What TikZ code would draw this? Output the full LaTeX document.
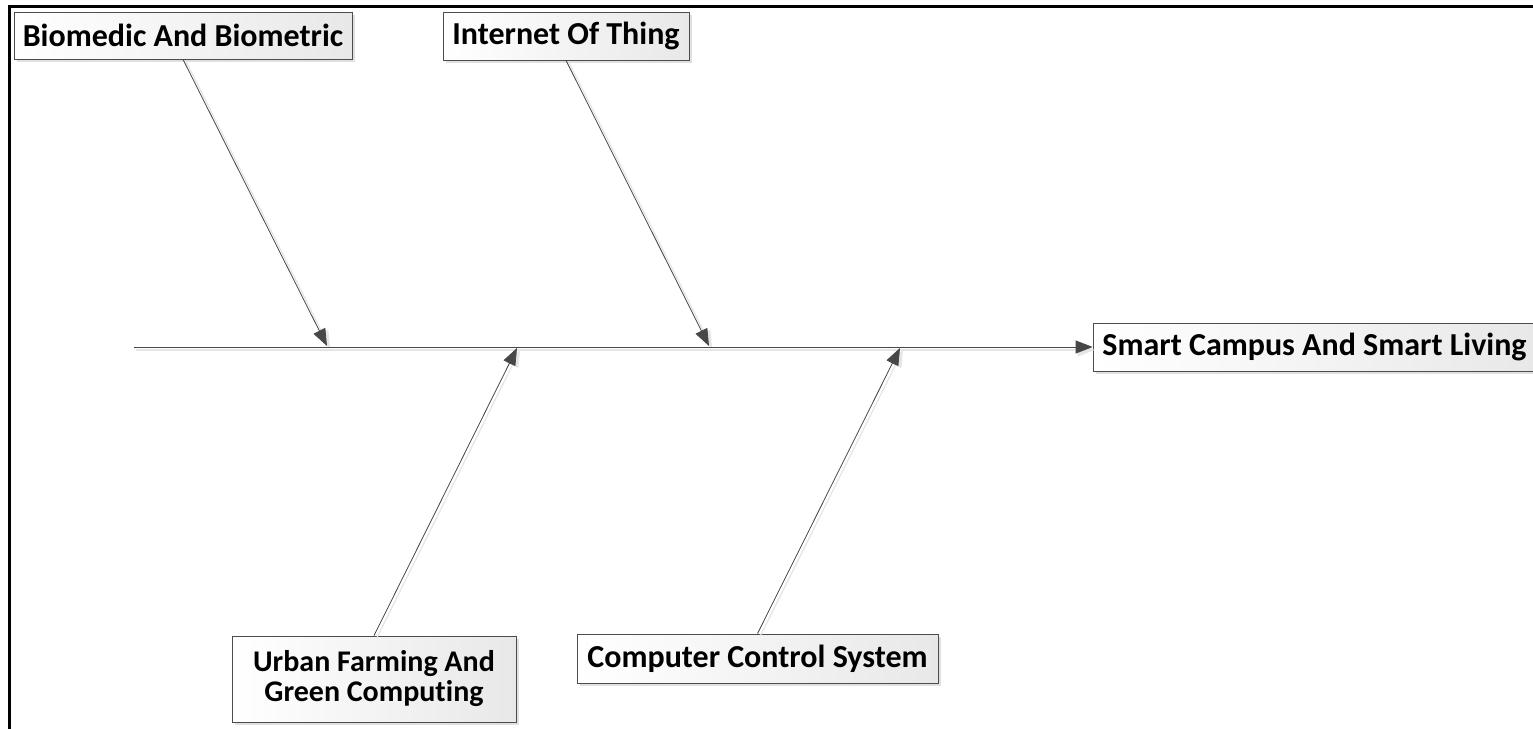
\documentclass[tikz,border=0pt]{standalone}
\usepackage{fontspec}
\setmainfont{Carlito}[Ligatures={NoCommon}]
\usetikzlibrary{arrows.meta,shadows}
\begin{document}
\begin{tikzpicture}[x=1pt,y=-1pt,
  box/.style={draw=black!70, line width=0.8pt, left color=white, right color=black!9,
    font=\bfseries\fontsize{32}{34}\selectfont, inner sep=0pt, align=center,
    drop shadow={shadow xshift=3pt, shadow yshift=-3pt, fill=black!12, opacity=1}},
  conn/.style={draw=black!72, line width=0.8pt, -{Triangle[length=17pt,width=13pt]}},
  connshadow/.style={draw=black!10, line width=1.2pt, -{Triangle[length=17pt,width=13pt]}}
]
\useasboundingbox (0,0) rectangle (1533,728);
\fill[white] (0,0) rectangle (1533,728);
% frame
\draw[line width=3pt, line cap=rect] (9,745) -- (9,6) -- (1545,6);

% nodes
\node[box, minimum width=338pt, minimum height=47pt] (bio) at (183,35.5) {Biomedic And Biometric};
\node[box, minimum width=246pt, minimum height=48pt] (iot) at (566,36) {Internet Of Thing};
\node[box, minimum width=443pt, minimum height=48pt] (smart) at (1314.5,347) {Smart Campus And Smart Living};
\node[box, minimum width=284pt, minimum height=86pt, font=\bfseries\fontsize{30}{30}\selectfont] (urban) at (374,679) {Urban Farming And\\Green Computing};
\node[box, minimum width=361pt, minimum height=49pt] (ccs) at (757.5,658.5) {Computer Control System};

% spine coordinates
\coordinate (s0) at (134,347);
\coordinate (t1) at (327,346);
\coordinate (t2) at (709,346);
\coordinate (t3) at (517,348);
\coordinate (t4) at (900,348);

% shadows of connectors
\draw[connshadow] ([shift={(2,3)}]s0) -- ([shift={(2,3)}]smart.west);
\draw[connshadow] ([shift={(3,2)}]bio.south) -- ([shift={(3,2)}]t1);
\draw[connshadow] ([shift={(3,2)}]iot.south) -- ([shift={(3,2)}]t2);
\draw[connshadow] ([shift={(3,2)}]urban.north) -- ([shift={(3,2)}]t3);
\draw[connshadow] ([shift={(3,2)}]ccs.north) -- ([shift={(3,2)}]t4);

% connectors
\draw[conn] (s0) -- (smart.west);
\draw[conn] (bio.south) -- (t1);
\draw[conn] (iot.south) -- (t2);
\draw[conn] (urban.north) -- (t3);
\draw[conn] (ccs.north) -- (t4);
\end{tikzpicture}
\end{document}
